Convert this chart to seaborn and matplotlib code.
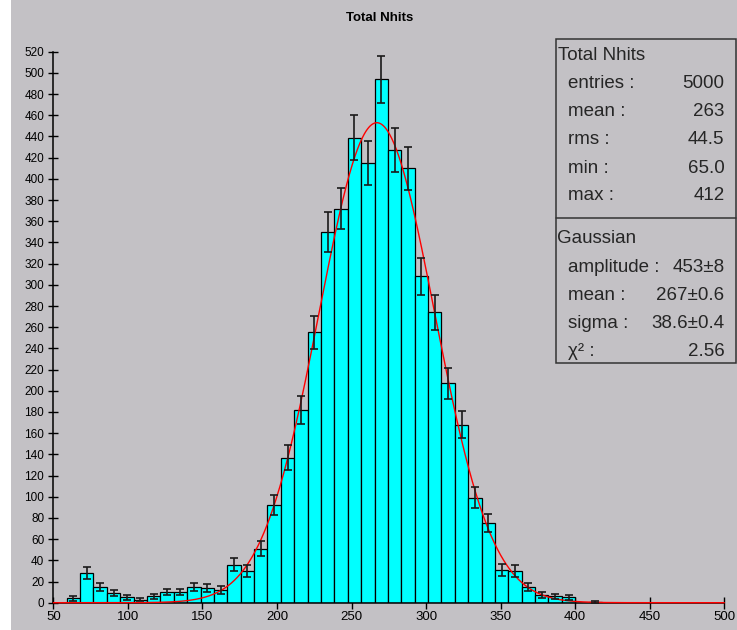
import numpy as np
import pandas as pd
import matplotlib
matplotlib.use("Agg")
import matplotlib.pyplot as plt
from matplotlib.patches import Rectangle
import seaborn as sns

# ---- histogram content -------------------------------------------------
title = "Total Nhits"
bin_low, bin_high, n_bins = 59.0, 418.0, 40
counts = [4, 28, 15, 9, 5, 3, 6, 10, 10, 15,
          14, 12, 36, 30, 51, 92, 137, 182, 255, 350,
          372, 439, 415, 494, 427, 410, 308, 274, 207, 168,
          99, 75, 31, 30, 15, 7, 6, 5, 0, 1]

# summary statistics
stat_names = ["entries :", "mean :", "rms :", "min :", "max :"]
stat_values = ["5000", "263", "44.5", "65.0", "412"]

# gaussian fit result
fit_amplitude, fit_amplitude_err = 453, 8
fit_mean, fit_mean_err = 267, 0.6
fit_sigma, fit_sigma_err = 38.6, 0.4
fit_chi2 = 2.56

x_ticks = list(range(50, 501, 50))
y_ticks = list(range(0, 521, 20))

# ---- styling -------------------------------------------------------------
BG = "#c3c1c5"
W, H = 737, 630
sns.set_theme(style="ticks")
plt.rcParams["font.family"] = ["Liberation Sans", "DejaVu Sans"]

fig = plt.figure(figsize=(W / 100, H / 100), dpi=100, facecolor=BG)
fig.patches.append(Rectangle((0, 0), 11 / W, 1, transform=fig.transFigure,
                             facecolor="white", edgecolor="none", zorder=-1))


def fx(px):
    return px / W


def fy(py):
    return 1 - py / H


ax_l, ax_r, ax_t, ax_b = 53.3, 724.3, 51.7, 602.7
ax = fig.add_axes([fx(ax_l), fy(ax_b), fx(ax_r - ax_l), (ax_b - ax_t) / H])
ax.set_facecolor(BG)

edges = np.linspace(bin_low, bin_high, n_bins + 1)
centers = 0.5 * (edges[:-1] + edges[1:])
df = pd.DataFrame({"nhits": centers, "count": counts})

sns.histplot(data=df, x="nhits", weights="count", bins=edges.tolist(), ax=ax,
             color="#00ffff", edgecolor="black", linewidth=0.9, alpha=1.0,
             zorder=2)

# fitted gaussian
xs = np.linspace(50, 500, 901)
curve = pd.DataFrame({
    "x": xs,
    "y": fit_amplitude * np.exp(-0.5 * ((xs - fit_mean) / fit_sigma) ** 2),
})
sns.lineplot(data=curve, x="x", y="y", ax=ax, color="#ff0000", linewidth=1.0,
             zorder=4, clip_on=False)

# poisson error bars
cnt = np.array(counts, dtype=float)
mask = cnt > 0
ax.errorbar(centers[mask], cnt[mask], yerr=np.sqrt(cnt[mask]), fmt="none",
            ecolor="#1a1a1a", elinewidth=1.2, capsize=2.8, capthick=1.2,
            zorder=5)

ax.set_xlim(50, 500)
ax.set_ylim(0, 520)
ax.set_xticks(x_ticks)
ax.set_yticks(y_ticks)
ax.set_xlabel("")
ax.set_ylabel("")
sns.despine(ax=ax)
for s in ("left", "bottom"):
    ax.spines[s].set_linewidth(1.1)
    ax.spines[s].set_color("black")
ax.tick_params(axis="x", direction="inout", length=8.5, width=1.0,
               labelsize=9.5, pad=2, colors="black")
ax.tick_params(axis="y", direction="inout", length=7, width=1.0,
               labelsize=8.5, pad=3, colors="black")

# title
fig.text(fx(380), fy(18), title, ha="center", va="center",
         fontsize=9.5, fontweight="bold", color="black")

# statistics box
box_l, box_r, box_t, box_mid, box_b = 556, 736, 39.3, 218.3, 362.7
fig.patches.append(Rectangle((fx(box_l), fy(box_b)), fx(box_r - box_l),
                             (box_b - box_t) / H, transform=fig.transFigure,
                             facecolor=BG, edgecolor="#333333",
                             linewidth=1.1, zorder=5))
fig.lines.append(plt.Line2D([fx(box_l), fx(box_r)], [fy(box_mid)] * 2,
                            transform=fig.transFigure, color="#333333",
                            linewidth=1.1, zorder=6))

fs = 13.5
fig.text(fx(557.5), fy(55), title, ha="left", va="center", fontsize=fs,
         zorder=7)
stat_rows_y = [83.3, 111.7, 140, 168.3, 195.7]
for name, val, yy in zip(stat_names, stat_values, stat_rows_y):
    fig.text(fx(568.5), fy(yy), name, ha="left", va="center", fontsize=fs,
             zorder=7)
    fig.text(fx(724.5), fy(yy), val, ha="right", va="center", fontsize=fs,
             zorder=7)

fig.text(fx(557.5), fy(238.3), "Gaussian", ha="left", va="center",
         fontsize=fs, zorder=7)
fit_rows = [
    ("amplitude :", f"{fit_amplitude}\u00b1{fit_amplitude_err}", 267.3),
    ("mean :", f"{fit_mean}\u00b1{fit_mean_err}", 295.7),
    ("sigma :", f"{fit_sigma}\u00b1{fit_sigma_err}", 324),
    ("\u03c7\u00b2 :", f"{fit_chi2}", 351.7),
]
for name, val, yy in fit_rows:
    fig.text(fx(568.5), fy(yy), name, ha="left", va="center", fontsize=fs,
             zorder=7)
    fig.text(fx(724.5), fy(yy), val, ha="right", va="center", fontsize=fs,
             zorder=7)

fig.savefig("out.png", dpi=100, facecolor=BG)
